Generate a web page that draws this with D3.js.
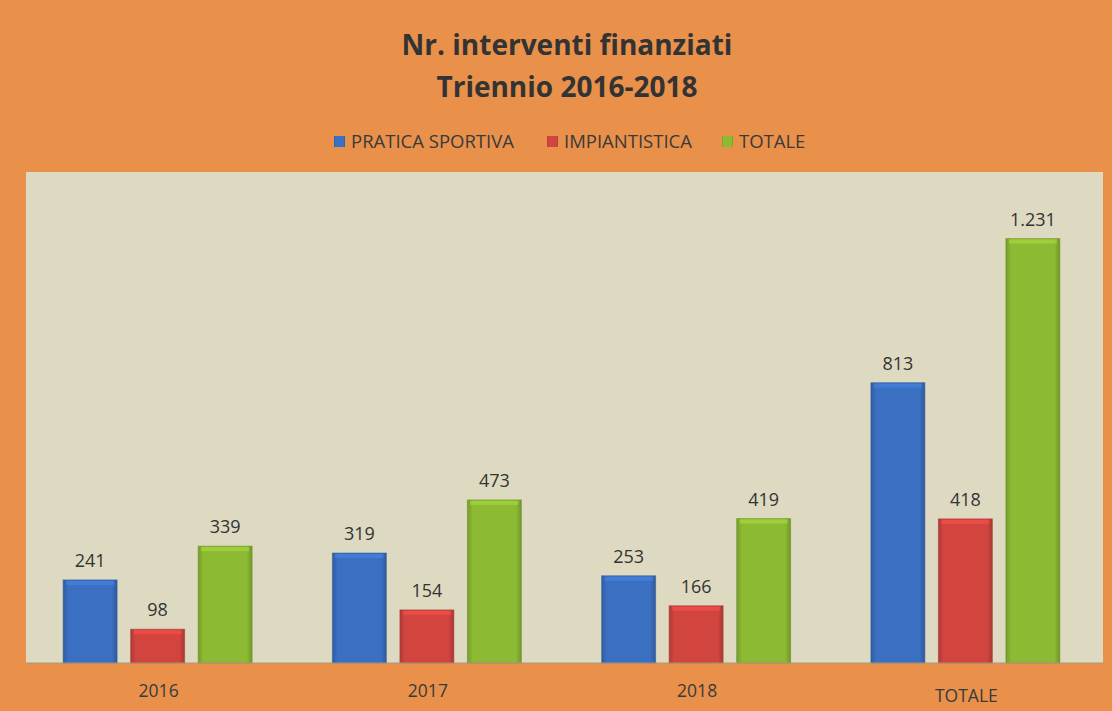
<!DOCTYPE html>
<html>
<head>
<meta charset="utf-8">
<script src="https://cdn.jsdelivr.net/npm/d3@7"></script>
<style>
  body { margin: 0; background: #e9914b; overflow: hidden; }
  svg { display: block; }
  text { font-family: "Open Sans", "Noto Sans", sans-serif; }
</style>
</head>
<body>
<div id="chart"></div>
<script>
var categories      =   [ '2016', '2017', '2018', 'TOTALE' ];
var series          =   [ 'PRATICA SPORTIVA', 'IMPIANTISTICA', 'TOTALE' ];
var pratica         =   [ 241, 319, 253, 813 ];
var impianti        =   [ 98, 154, 166, 418 ];
var totale          =   [ 339, 473, 419, 1231 ];
var values          =   [ pratica, impianti, totale ];
var colors          =   [ '#3b6fc2', '#d2453f', '#8cba33' ];

var chart_width     =   1112;
var chart_height    =   711;
var plot            =   { left: 26, right: 1103, top: 172, bottom: 663 };

var svg             =   d3.select( '#chart' )
    .append( 'svg' )
    .attr( 'width', chart_width )
    .attr( 'height', chart_height );

// gradients for the bevelled bars
var defs = svg.append( 'defs' );
colors.forEach(function( c, i ){
    var g = defs.append( 'linearGradient' )
        .attr( 'id', 'grad' + i )
        .attr( 'x1', 0 ).attr( 'x2', 1 ).attr( 'y1', 0 ).attr( 'y2', 0 );
    g.append( 'stop' ).attr( 'offset', '0%' ).attr( 'stop-color', d3.color(c).darker(0.5) );
    g.append( 'stop' ).attr( 'offset', '10%' ).attr( 'stop-color', c );
    g.append( 'stop' ).attr( 'offset', '90%' ).attr( 'stop-color', c );
    g.append( 'stop' ).attr( 'offset', '100%' ).attr( 'stop-color', d3.color(c).darker(0.6) );
});

// background + plot area
svg.append( 'rect' )
    .attr( 'width', chart_width )
    .attr( 'height', chart_height )
    .attr( 'fill', '#e9914b' );

svg.append( 'rect' )
    .attr( 'x', plot.left )
    .attr( 'y', plot.top )
    .attr( 'width', plot.right - plot.left )
    .attr( 'height', plot.bottom - plot.top )
    .attr( 'fill', '#dedac2' );

// Title
svg.append( 'text' )
    .attr( 'x', 567 ).attr( 'y', 55 )
    .attr( 'text-anchor', 'middle' )
    .attr( 'font-size', 28 ).attr( 'font-weight', 'bold' )
    .attr( 'fill', '#333' )
    .text( 'Nr. interventi finanziati' );
svg.append( 'text' )
    .attr( 'x', 567 ).attr( 'y', 97 )
    .attr( 'text-anchor', 'middle' )
    .attr( 'font-size', 28 ).attr( 'font-weight', 'bold' )
    .attr( 'fill', '#333' )
    .text( 'Triennio 2016-2018' );

// Scales
var x_scale         =   d3.scaleBand()
    .domain( categories )
    .range([ plot.left, plot.right ])
    .paddingInner( 0 )
    .paddingOuter( 0 );

var x_inner         =   d3.scaleBand()
    .domain( d3.range( series.length ) )
    .range([ 0, 189 ])
    .paddingInner( 0.2 );

var y_scale         =   d3.scaleLinear()
    .domain([ 0, 1424 ])
    .range([ plot.bottom, plot.top ]);

// Legend
var legend_x = [ 334, 547, 722 ];
var legend = svg.append( 'g' ).selectAll( 'g' )
    .data( series )
    .enter()
    .append( 'g' )
    .attr( 'transform', function( d, i ){ return 'translate(' + legend_x[i] + ',141)'; });
legend.append( 'rect' )
    .attr( 'x', 0 ).attr( 'y', -5 )
    .attr( 'width', 11 ).attr( 'height', 11 )
    .attr( 'fill', function( d, i ){ return 'url(#grad' + i + ')'; });
legend.append( 'text' )
    .attr( 'x', 17 ).attr( 'y', 7 )
    .attr( 'font-size', 18.5 )
    .attr( 'fill', '#3a3a3a' )
    .text( function( d ){ return d; });

// Bars
var groups = svg.append( 'g' ).selectAll( 'g' )
    .data( categories )
    .enter()
    .append( 'g' )
    .attr( 'transform', function( d ){
        return 'translate(' + ( x_scale(d) + x_scale.bandwidth() / 2 - 94.5 - 3 ) + ',0)';
    });

groups.selectAll( 'g' )
    .data( function( d, ci ){
        return values.map(function( v, si ){ return { s: si, v: v[ci] }; });
    })
    .enter()
    .append( 'g' )
    .each(function( d ){
        var g = d3.select( this );
        var x = x_inner( d.s ), w = x_inner.bandwidth();
        var y = y_scale( d.v ), h = y_scale(0) - y;
        var c = colors[ d.s ];
        g.append( 'rect' )
            .attr( 'x', x ).attr( 'y', y )
            .attr( 'width', w ).attr( 'height', h )
            .attr( 'fill', 'url(#grad' + d.s + ')' )
            .attr( 'stroke', d3.color(c).darker(0.8) )
            .attr( 'stroke-opacity', 0.5 )
            .attr( 'stroke-width', 1 );
        g.append( 'rect' )
            .attr( 'x', x + 3 ).attr( 'y', y + 1 )
            .attr( 'width', w - 6 ).attr( 'height', 4 )
            .attr( 'fill', d3.color(c).brighter(0.5) )
            .attr( 'opacity', 0.6 );
        g.append( 'text' )
            .attr( 'x', x + w / 2 )
            .attr( 'y', y - 13 )
            .attr( 'text-anchor', 'middle' )
            .attr( 'font-size', 18 )
            .attr( 'fill', '#333' )
            .text( d3.format( ',' )( d.v ).replace( ',', '.' ) );
    });

// X axis labels
svg.append( 'g' ).selectAll( 'text' )
    .data( categories )
    .enter()
    .append( 'text' )
    .attr( 'x', function( d ){ return x_scale(d) + x_scale.bandwidth() / 2 - 2; })
    .attr( 'y', function( d ){ return d === 'TOTALE' ? 702 : 697; })
    .attr( 'text-anchor', 'middle' )
    .attr( 'font-size', 17.5 )
    .attr( 'fill', '#3a3a3a' )
    .text( function( d ){ return d; });

svg.append( 'line' )
    .attr( 'x1', plot.left ).attr( 'x2', plot.right )
    .attr( 'y1', plot.bottom ).attr( 'y2', plot.bottom )
    .attr( 'stroke', '#a59a86' )
    .attr( 'stroke-width', 1 );
</script>
</body>
</html>
